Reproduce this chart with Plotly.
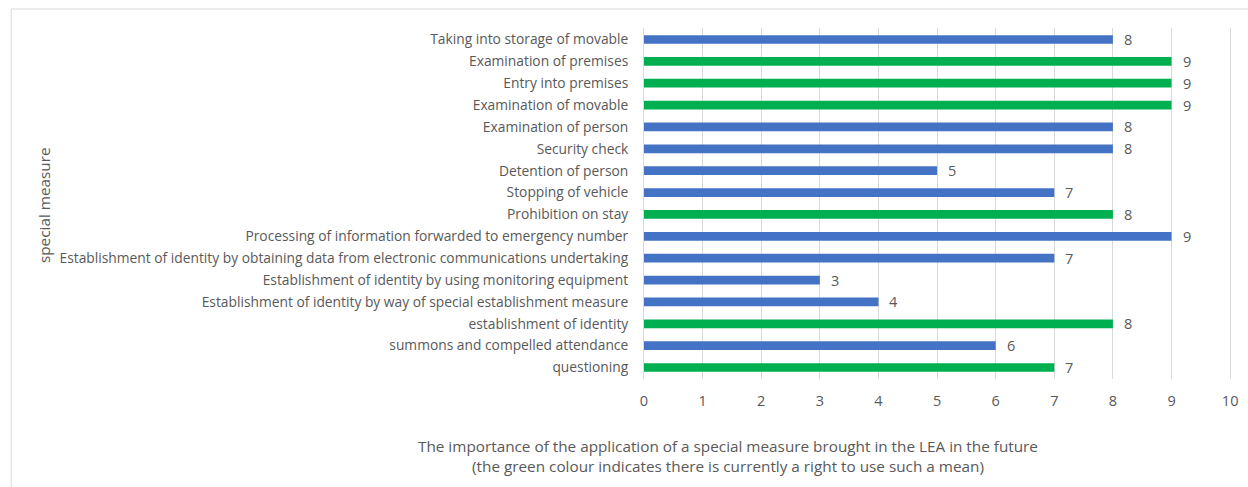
import plotly.graph_objects as go

categories = [
    "Taking into storage of movable",
    "Examination of premises",
    "Entry into premises",
    "Examination of movable",
    "Examination of person",
    "Security check",
    "Detention of person",
    "Stopping of vehicle",
    "Prohibition on stay",
    "Processing of information forwarded to emergency number",
    "Establishment of identity by obtaining data from electronic communications undertaking",
    "Establishment of identity by using monitoring equipment",
    "Establishment of identity by way of special establishment measure",
    "establishment of identity",
    "summons and compelled attendance",
    "questioning",
]
values = [8, 9, 9, 9, 8, 8, 5, 7, 8, 9, 7, 3, 4, 8, 6, 7]
current_right = [False, True, True, True, False, False, False, False, True,
                 False, False, False, False, True, False, True]
x_ticks = [0, 1, 2, 3, 4, 5, 6, 7, 8, 9, 10]

BLUE = "#4472C4"
GREEN = "#00B050"
TEXT = "#595959"
FONT = "Open Sans"

colors = [GREEN if r else BLUE for r in current_right]

# plot area: x from 644px to 1238px (range 0..10.1 so that 10 sits at ~1232px)
L, R, T, B = 644, 10, 28, 108
W, H = 1248, 487
pw = W - L - R
ph = H - T - B


def px_to_paper_x(px):
    return (px - L) / pw


def py_to_paper_y(py):
    return (H - B - py) / ph


fig = go.Figure()
fig.add_trace(go.Bar(
    x=values, y=categories, orientation="h",
    marker=dict(color=colors, line=dict(width=0)),
    width=0.4, hoverinfo="x+y",
))

annotations = []
for c, v in zip(categories, values):
    annotations.append(dict(x=v, y=c, xref="x", yref="y", text=str(v),
                            showarrow=False, xanchor="left", xshift=9,
                            font=dict(family=FONT, size=14.5, color=TEXT)))

annotations.append(dict(
    x=px_to_paper_x(728), y=py_to_paper_y(456), xref="paper", yref="paper",
    showarrow=False,
    text="The importance of the application of a special measure brought in the LEA in the future<br>(the green colour indicates there is currently a right to use such a mean)",
    font=dict(family=FONT, size=15.3, color=TEXT), align="center",
    xanchor="center", yanchor="middle",
))
annotations.append(dict(
    x=px_to_paper_x(42), y=py_to_paper_y(205), xref="paper", yref="paper",
    showarrow=False,
    text="special measure", textangle=-90,
    font=dict(family=FONT, size=15.3, color=TEXT),
    xanchor="center", yanchor="middle",
))

fig.update_layout(
    width=W, height=H,
    margin=dict(l=L, r=R, t=T, b=B),
    paper_bgcolor="white", plot_bgcolor="white",
    showlegend=False,
    font=dict(family=FONT, size=13.8, color=TEXT),
    annotations=annotations,
    shapes=[dict(type="rect", xref="paper", yref="paper",
                 x0=px_to_paper_x(9), x1=px_to_paper_x(1300),
                 y0=py_to_paper_y(520), y1=py_to_paper_y(9),
                 line=dict(color="#D9D9D9", width=1), fillcolor="rgba(0,0,0,0)",
                 layer="below")],
)
fig.update_xaxes(range=[0, 10.1], tickvals=x_ticks, showgrid=True,
                 gridcolor="#D9D9D9", gridwidth=1, zeroline=False,
                 showline=False, ticks="outside", ticklen=9,
                 tickcolor="rgba(0,0,0,0)",
                 tickfont=dict(family=FONT, size=14.5, color=TEXT))
fig.update_yaxes(autorange="reversed", showgrid=False, showline=True,
                 linecolor="#D9D9D9", linewidth=1,
                 ticks="outside", ticklen=12, tickcolor="rgba(0,0,0,0)",
                 tickfont=dict(family=FONT, size=13.8, color=TEXT))

fig.write_html("out.html")
